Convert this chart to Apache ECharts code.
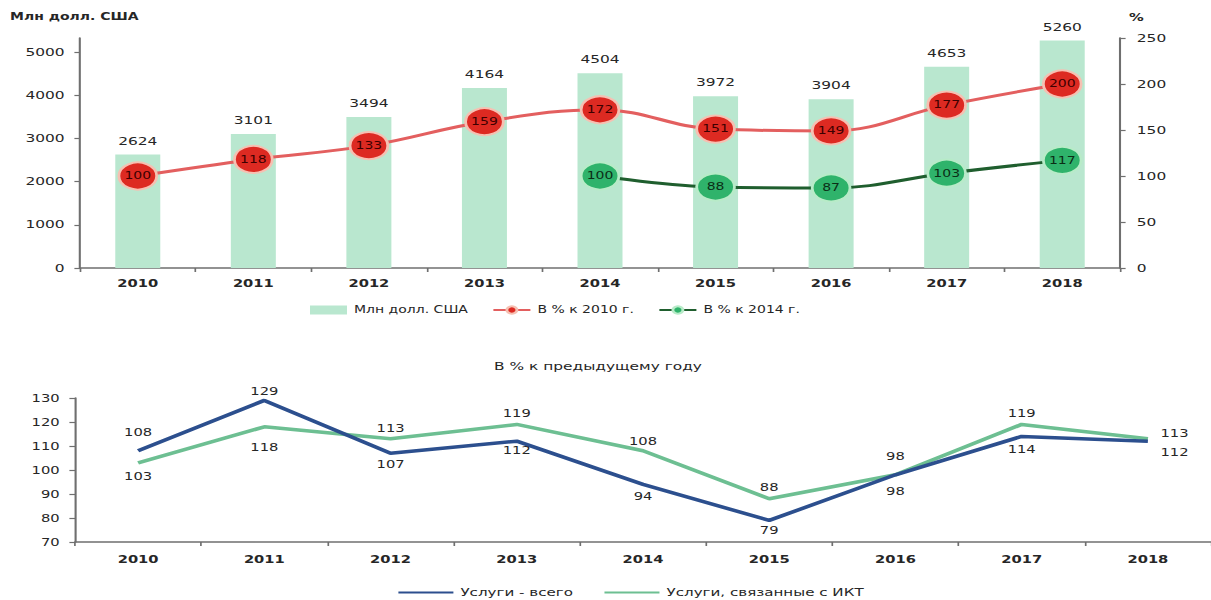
<!DOCTYPE html>
<html>
<head>
<meta charset="utf-8">
<title>Экспорт услуг</title>
<script src="https://cdn.jsdelivr.net/npm/echarts@6/dist/echarts.min.js"></script>
<style>
  html, body { margin: 0; padding: 0; background: #fff; width: 1211px; height: 600px; overflow: hidden; }
  /* the chart is laid out on a narrower canvas and widened horizontally */
  #chart { width: 865px; height: 600px; transform: scaleX(1.4); transform-origin: 0 0; }
</style>
</head>
<body>
<div id="chart"></div>
<script>
// ---- data ----
const years = ['2010', '2011', '2012', '2013', '2014', '2015', '2016', '2017', '2018'];
const usdMln = [2624, 3101, 3494, 4164, 4504, 3972, 3904, 4653, 5260];
const pctOf2010 = [100, 118, 133, 159, 172, 151, 149, 177, 200];
const pctOf2014 = [null, null, null, null, 100, 88, 87, 103, 117];
const servicesTotal = [108, 129, 107, 112, 94, 79, 98, 114, 112];
const servicesIct = [103, 118, 113, 119, 108, 88, 98, 119, 113];

const nameUsd = 'Млн долл. США';
const name2010 = 'В % к 2010 г.';
const name2014 = 'В % к 2014 г.';
const nameTotal = 'Услуги - всего';
const nameIct = 'Услуги, связанные с ИКТ';
const lowerTitle = 'В % к предыдущему году';

// ---- layout helpers ----
const SX = 1.4;               // horizontal widening applied by CSS
const px = x => x / SX;       // screen x -> canvas x
const FONT = '"DejaVu Sans", Verdana, sans-serif';
const TXT = '#262626';
const AXIS = '#6f6f6f';
const CLEAR = 'rgba(0,0,0,0)';

// label sides / gaps for the lower chart
const totalSide = ['top', 'top', 'bottom', 'bottom', 'bottom', 'bottom', 'bottom', 'bottom', 'right'];
const totalGap  = [12, 3, 5, 3, 5, 3, 10, 6, 8];
const ictSide   = ['bottom', 'bottom', 'top', 'top', 'top', 'top', 'top', 'top', 'right'];
const ictGap    = [7, 14, 4, 5, 3, 5, 12, 5, 8];

function pctLabel(color) {
  return { show: true, position: 'inside', fontFamily: FONT, fontSize: 10, color: color };
}

function lowerData(values, sides, gaps, rightOffset) {
  return values.map((v, i) => ({
    value: v,
    label: {
      show: true,
      position: sides[i],
      distance: gaps[i],
      offset: sides[i] === 'right' ? [0, rightOffset] : [0, 0]
    }
  }));
}

const chart = echarts.init(document.getElementById('chart'), null, { renderer: 'svg' });

const axisLine = { show: true, lineStyle: { color: AXIS, width: 1.5 } };
const axisTick = { show: true, length: 4, lineStyle: { color: AXIS, width: 1.2 } };
const plain = v => String(v);

chart.setOption({
  animation: false,
  backgroundColor: '#ffffff',
  textStyle: { fontFamily: FONT },
  grid: [
    { left: px(80), top: 38, width: px(1040), height: 230, containLabel: false },
    { left: px(75), top: 398, width: px(1143), height: 144, containLabel: false }
  ],
  graphic: [
    { type: 'text', left: px(10), top: 12,
      style: { text: nameUsd, font: 'bold 10px ' + FONT, fill: TXT } },
    { type: 'text', left: px(1129), top: 12,
      style: { text: '%', font: 'bold 10.5px ' + FONT, fill: TXT } },
    { type: 'text', x: px(598), y: 361,
      style: { text: lowerTitle, font: '11px ' + FONT, fill: TXT, textAlign: 'center' } }
  ],
  legend: [
    {
      left: px(303), top: 300, itemWidth: px(37), itemHeight: 9, itemGap: px(24),
      textStyle: { fontFamily: FONT, fontSize: 10, color: TXT },
      data: [
        { name: nameUsd, icon: 'rect' },
        name2010,
        name2014
      ]
    },
    {
      left: px(390), top: 582, itemWidth: px(55), itemHeight: 9, itemGap: px(30),
      textStyle: { fontFamily: FONT, fontSize: 10.8, color: TXT },
      data: [nameTotal, nameIct]
    }
  ],
  xAxis: [
    {
      type: 'category', gridIndex: 0, data: years, boundaryGap: true,
      axisLine: axisLine, axisTick: axisTick,
      axisLabel: { fontFamily: FONT, fontSize: 10.5, fontWeight: 'bold', color: TXT, margin: 10 }
    },
    {
      type: 'category', gridIndex: 1, data: years, boundaryGap: true,
      axisLine: axisLine, axisTick: axisTick,
      axisLabel: { fontFamily: FONT, fontSize: 10.5, fontWeight: 'bold', color: TXT, margin: 12 }
    }
  ],
  yAxis: [
    {
      type: 'value', gridIndex: 0, min: 0, max: 5320, interval: 1000,
      axisLine: axisLine, axisTick: axisTick, splitLine: { show: false },
      axisLabel: { fontFamily: FONT, fontSize: 11, color: TXT, margin: 11, showMaxLabel: false, formatter: plain }
    },
    {
      type: 'value', gridIndex: 0, position: 'right', min: 0, max: 250, interval: 50,
      axisLine: axisLine, axisTick: axisTick, splitLine: { show: false },
      axisLabel: { fontFamily: FONT, fontSize: 11, color: TXT, margin: 12, formatter: plain }
    },
    {
      type: 'value', gridIndex: 1, min: 70, max: 130, interval: 10,
      axisLine: axisLine, axisTick: axisTick, splitLine: { show: false },
      axisLabel: { fontFamily: FONT, fontSize: 10.5, color: TXT, margin: 11, formatter: plain }
    }
  ],
  series: [
    {
      name: nameUsd, type: 'bar', xAxisIndex: 0, yAxisIndex: 0,
      data: usdMln, barWidth: px(45),
      itemStyle: { color: '#b9e7cf' },
      label: { show: true, position: 'top', distance: 8, fontFamily: FONT, fontSize: 11, color: TXT },
      z: 1
    },
    {
      name: name2010, type: 'line', xAxisIndex: 0, yAxisIndex: 1,
      data: pctOf2010, smooth: 0.4,
      symbol: 'circle', symbolSize: 27,
      lineStyle: { color: '#e35f5f', width: 3 },
      itemStyle: { color: '#dd2a22', borderColor: '#f6c0b2', borderWidth: 2 },
      label: pctLabel('#3d0000'),
      z: 3
    },
    {
      name: name2014, type: 'line', xAxisIndex: 0, yAxisIndex: 1,
      data: pctOf2014, smooth: 0.4, connectNulls: false,
      symbol: 'circle', symbolSize: 27,
      lineStyle: { color: '#1f5e2e', width: 3 },
      itemStyle: { color: '#2fb36b', borderColor: '#b8ebc8', borderWidth: 2 },
      label: pctLabel('#0b2e16'),
      z: 3
    },
    {
      name: nameTotal, type: 'line', xAxisIndex: 1, yAxisIndex: 2,
      data: lowerData(servicesTotal, totalSide, totalGap, 11),
      symbol: 'circle', symbolSize: 2, showSymbol: true,
      lineStyle: { color: '#2c4f8e', width: 3.5 },
      itemStyle: { color: CLEAR, borderWidth: 0 },
      label: { show: true, fontFamily: FONT, fontSize: 10.5, color: TXT },
      z: 3
    },
    {
      name: nameIct, type: 'line', xAxisIndex: 1, yAxisIndex: 2,
      data: lowerData(servicesIct, ictSide, ictGap, -5),
      symbol: 'circle', symbolSize: 2, showSymbol: true,
      lineStyle: { color: '#6dbf92', width: 3.5 },
      itemStyle: { color: CLEAR, borderWidth: 0 },
      label: { show: true, fontFamily: FONT, fontSize: 10.5, color: TXT },
      z: 2
    }
  ]
});
</script>
</body>
</html>
